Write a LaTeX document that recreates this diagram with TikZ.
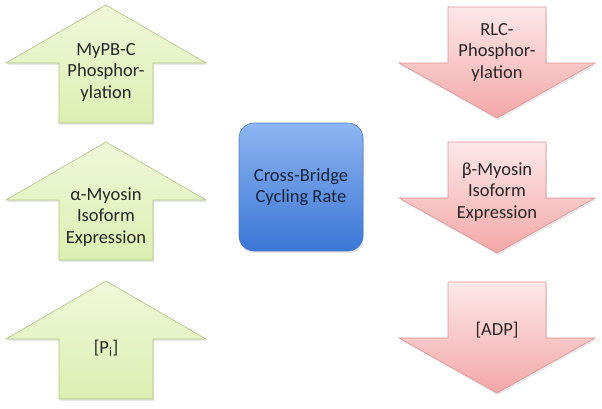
\documentclass[tikz,border=0pt]{standalone}
\usepackage{fontspec}
\setmainfont{Carlito}
\usepackage{tikz}
\usetikzlibrary{shadows}

\definecolor{grntop}{HTML}{EFF8DA}
\definecolor{grnbot}{HTML}{DCEFB2}
\definecolor{grnline}{HTML}{ABC67E}
\definecolor{redtop}{HTML}{FDE8E8}
\definecolor{redbot}{HTML}{F4A7A7}
\definecolor{redline}{HTML}{DE9393}
\definecolor{blutop}{HTML}{8DB6F1}
\definecolor{blubot}{HTML}{3B76D6}
\definecolor{bluline}{HTML}{4F7DC2}
\definecolor{blutext}{HTML}{18243C}

% up arrow: tip at (#1,#2)
\newcommand{\uparrowpath}[2]{(#1,#2) -- ++(100,58) -- ++(-53,0) -- ++(0,60) -- ++(-94,0) -- ++(0,-60) -- ++(-53,0) -- cycle}
% down arrow: shaft top centre at (#1,#2)
\newcommand{\downarrowpath}[2]{(#1-49,#2) -- ++(98,0) -- ++(0,56) -- ++(49,0) -- ++(-98,55) -- ++(-98,-55) -- ++(49,0) -- cycle}

\begin{document}
\begin{tikzpicture}[x=1pt,y=-1pt,
    every node/.style={font=\fontsize{18.5}{21.5}\selectfont, align=center, text=black!85},
    shadowed/.style={drop shadow={opacity=0.18, shadow xshift=1pt, shadow yshift=-2pt}},
    uparr/.style={shadowed, draw=grnline, top color=grntop, bottom color=grnbot, line width=0.6pt},
    downarr/.style={shadowed, draw=redline, top color=redtop, bottom color=redbot, line width=0.6pt},
    rate/.style={shadowed, draw=bluline, top color=blutop, bottom color=blubot, rounded corners=15pt,
                 minimum width=124pt, minimum height=128pt, text=blutext, line width=0.6pt}]

    \useasboundingbox (0,0) rectangle (602,408);

    % increasing factors
    \foreach \t in {5,142,281}
        \path[uparr] \uparrowpath{106}{\t};
    % decreasing factors
    \foreach \t in {7,142,282}
        \path[downarr] \downarrowpath{497}{\t};

    \node (mybpc)   at (106,72)  {MyPB-C\\Phosphor-\\ylation};
    \node (alphamy) at (106,217) {α-Myosin\\Isoform\\Expression};
    \node (pi)      at (106,348) {[P\textsubscript{i}]};

    \node[rate] (xbridge) at (301,187) {Cross-Bridge\\Cycling Rate};

    \node (rlc)    at (497,52)  {RLC-\\Phosphor-\\ylation};
    \node (betamy) at (497,192) {β-Myosin\\Isoform\\Expression};
    \node (adp)    at (497,330) {[ADP]};
\end{tikzpicture}
\end{document}
